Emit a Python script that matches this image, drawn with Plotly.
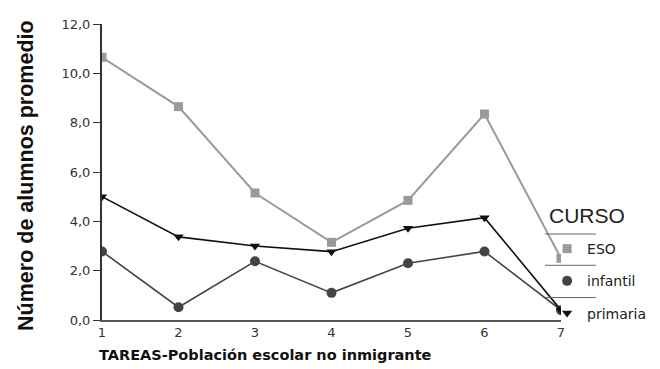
import plotly.graph_objects as go

tareas = [1, 2, 3, 4, 5, 6, 7]
eso = [10.65, 8.65, 5.15, 3.15, 4.85, 8.35, 2.5]
infantil = [2.78, 0.52, 2.38, 1.1, 2.3, 2.78, 0.4]
primaria = [5.0, 3.37, 3.0, 2.77, 3.72, 4.15, 0.4]
y_ticks = [0, 2, 4, 6, 8, 10, 12]

series = [
    ("ESO", eso, "#9a9a9a", "square", 9, 2),
    ("infantil", infantil, "#444444", "circle", 10, 1.6),
    ("primaria", primaria, "#111111", "triangle-down", 9, 1.6),
]

fig = go.Figure()
for name, vals, col, sym, sz, lw in series:
    fig.add_trace(go.Scatter(
        x=tareas, y=vals, mode="lines+markers", name=name, showlegend=False,
        line=dict(color=col, width=lw),
        marker=dict(symbol=sym, size=sz, color=col),
    ))
for i, (name, vals, col, sym, sz, lw) in enumerate(series):
    fig.add_trace(go.Scatter(
        x=[None], y=[None], mode="markers", name=name, legendgroup=f"g{i}",
        marker=dict(symbol=sym, size=sz, color=col),
    ))

font_main = "Liberation Sans, Arial, sans-serif"
font_wide = "DejaVu Sans, sans-serif"

# the page body adds an 8px offset; pixel targets below are page coordinates
T, B, L, R = 9, 49, 94, 96
W, H = 652, 361
PH = H - T - B
PW = W - L - R

def py2paper(py):
    return (320 - py) / PH

def px2paper(px):
    return (px - 102) / PW

fig.update_layout(
    width=W, height=H,
    margin=dict(l=L, r=R, t=T, b=B),
    plot_bgcolor="white", paper_bgcolor="white",
    separators=",.",
    font=dict(family=font_main, color="#333333", size=13),
    xaxis=dict(
        range=[1, 7], tickvals=tareas, showgrid=False, zeroline=False,
        showline=True, linecolor="#555555", linewidth=1.5,
        ticks="", tickfont=dict(size=13, color="#333333", family=font_wide),
    ),
    yaxis=dict(
        range=[0, 12], tickvals=y_ticks, tickformat=".1f", showgrid=False,
        zeroline=False, showline=True, linecolor="#333333", linewidth=2,
        ticks="outside", ticklen=7, tickcolor="#333333",
        tickfont=dict(size=13, color="#333333", family=font_wide),
    ),
    legend=dict(
        x=px2paper(550), xanchor="left", y=py2paper(231), yanchor="top",
        bgcolor="rgba(0,0,0,0)",
        font=dict(size=14, color="#222222", family=font_wide),
        tracegroupgap=11,
    ),
    annotations=[
        dict(text="<b>Número de alumnos promedio</b>", xref="paper", yref="paper",
             x=px2paper(26), y=py2paper(172), textangle=-90, showarrow=False,
             font=dict(size=21.5, color="#111111", family=font_main),
             xanchor="center", yanchor="middle"),
        dict(text="<b>TAREAS-Población escolar no inmigrante</b>", xref="paper", yref="paper",
             x=px2paper(97), y=py2paper(346), xanchor="left", yanchor="top", showarrow=False,
             font=dict(size=14.5, color="#111111", family=font_wide)),
        dict(text="CURSO", xref="paper", yref="paper",
             x=px2paper(590), y=py2paper(213), xanchor="center", yanchor="middle", showarrow=False,
             font=dict(size=21, color="#222222", family=font_main)),
    ],
)

for py in [232, 264, 297]:
    yp = py2paper(py)
    fig.add_shape(type="line", xref="paper", yref="paper",
                  x0=px2paper(548), x1=px2paper(599), y0=yp, y1=yp,
                  line=dict(color="#666666", width=1))

fig.write_html("out.html")
